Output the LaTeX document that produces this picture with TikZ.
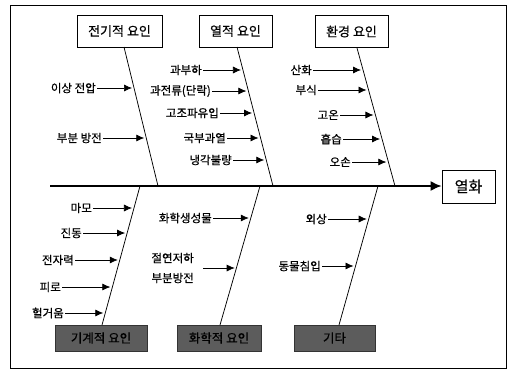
\documentclass[tikz,border=0pt]{standalone}
\usepackage{fontspec}
\setmainfont{Noto Sans CJK KR}[FakeBold=0.6]
\usetikzlibrary{arrows.meta,calc}
\definecolor{boxgray}{rgb}{0.36,0.36,0.36}
\begin{document}
\begin{tikzpicture}[x=1pt,y=-1pt,
  topcat/.style={draw, line width=0.7pt, minimum height=32pt, inner sep=1pt, font=\fontsize{13}{15}\selectfont},
  botcat/.style={draw=black!80, fill=boxgray, line width=0.7pt, minimum height=26pt, inner sep=1pt, font=\fontsize{12.5}{15}\selectfont},
  headbox/.style={draw, line width=0.8pt, minimum width=53pt, minimum height=33pt, inner sep=1pt, font=\fontsize{15}{17}\selectfont},
  cause/.style={anchor=east, inner sep=1pt, font=\fontsize{11.5}{13}\selectfont},
  carrow/.style={-{Latex[length=8pt,width=7pt]}, line width=0.7pt, shorten >=2pt},
  branch/.style={line width=0.75pt},
  spine/.style={line width=1.6pt, -{Latex[length=11pt,width=10pt]}}
]
\useasboundingbox (0,0) rectangle (508,370);
\draw[line width=0.8pt] (10,5) rectangle (506,368);

% category boxes
\node[topcat, minimum width=85pt] (elec) at (119.5,31) {전기적 요인};
\node[topcat, minimum width=73pt] (therm) at (235.5,31) {열적 요인};
\node[topcat, minimum width=73pt] (env) at (351.5,31.5) {환경 요인};
\node[botcat, minimum width=92pt] (mech) at (101,338) {기계적 요인};
\node[botcat, minimum width=84pt] (chem) at (219,338) {화학적 요인};
\node[botcat, minimum width=81pt] (oth) at (334.5,338) {기타};
\node[headbox] (head) at (468.5,186.5) {열화};

% spine
\coordinate (tail) at (50,186);
\draw[spine] (tail) -- (head.west |- tail);

% branch end points
\coordinate (e1) at (124,47);  \coordinate (e2) at (158,186);
\coordinate (t1) at (237,47);  \coordinate (t2) at (273,186);
\coordinate (v1) at (357,48);  \coordinate (v2) at (395,186);
\coordinate (m1) at (140,186); \coordinate (m2) at (102,325);
\coordinate (c1) at (260,186); \coordinate (c2) at (220,325);
\coordinate (o1) at (378,186); \coordinate (o2) at (339,325);
\foreach \a/\b in {e1/e2,t1/t2,v1/v2,m1/m2,c1/c2,o1/o2}
  \draw[branch] (\a) -- (\b);

% electrical causes
\node[cause] (ea) at (97,88) {이상 전압};
\node[cause] (eb) at (103,138) {부분 방전};
\coordinate (eat) at ($(e1)!{41/139}!(e2)$);
\coordinate (ebt) at ($(e1)!{91/139}!(e2)$);
\draw[carrow] (ea.east) -- (ea.east -| eat);
\draw[carrow] (eb.east) -- (eb.east -| ebt);

% thermal causes
\node[cause] (ta) at (203,70) {과부하};
\node[cause] (tb) at (212,91) {과전류(단락)};
\node[cause] (tc) at (220,113) {고조파유입};
\node[cause] (td) at (227,138) {국부과열};
\node[cause] (te) at (233,160) {냉각불량};
\coordinate (tat) at ($(t1)!{23/139}!(t2)$);
\coordinate (tbt) at ($(t1)!{44/139}!(t2)$);
\coordinate (tct) at ($(t1)!{66/139}!(t2)$);
\coordinate (tdt) at ($(t1)!{91/139}!(t2)$);
\coordinate (tet) at ($(t1)!{113/139}!(t2)$);
\foreach \n in {ta,tb,tc,td,te}
  \draw[carrow] (\n.east) -- (\n.east -| \n t);

% environmental causes
\node[cause] (va) at (313,70) {산화};
\node[cause] (vb) at (318,90) {부식};
\node[cause] (vc) at (340,115) {고온};
\node[cause] (vd) at (343,139) {흡습};
\node[cause] (ve) at (352,162) {오손};
\coordinate (vat) at ($(v1)!{22/138}!(v2)$);
\coordinate (vbt) at ($(v1)!{42/138}!(v2)$);
\coordinate (vct) at ($(v1)!{67/138}!(v2)$);
\coordinate (vdt) at ($(v1)!{91/138}!(v2)$);
\coordinate (vet) at ($(v1)!{114/138}!(v2)$);
\foreach \n in {va,vb,vc,vd,ve}
  \draw[carrow] (\n.east) -- (\n.east -| \n t);

% mechanical causes
\node[cause] (ma) at (93,208) {마모};
\node[cause] (mb) at (83,233) {진동};
\node[cause] (mc) at (75,260) {전자력};
\node[cause] (md) at (62,287) {피로};
\node[cause] (me) at (65,313) {헐거움};
\coordinate (mat) at ($(m1)!{22/139}!(m2)$);
\coordinate (mbt) at ($(m1)!{47/139}!(m2)$);
\coordinate (mct) at ($(m1)!{74/139}!(m2)$);
\coordinate (mdt) at ($(m1)!{101/139}!(m2)$);
\coordinate (met) at ($(m1)!{127/139}!(m2)$);
\foreach \n in {ma,mb,mc,md,me}
  \draw[carrow] (\n.east) -- (\n.east -| \n t);

% chemical causes
\node[cause] (ca) at (213,218) {화학생성물};
\node[cause, align=left, font=\fontsize{11.5}{20}\selectfont] (cb) at (195,268) {절연저하\\부분방전};
\coordinate (cat) at ($(c1)!{32/139}!(c2)$);
\coordinate (cbt) at ($(c1)!{81/139}!(c2)$);
\draw[carrow] (ca.east) -- (ca.east -| cat);
\draw[carrow] ([xshift=8pt]cb.east) -- (cb.east -| cbt);

% other causes
\node[cause] (oa) at (328,219) {외상};
\node[cause] (ob) at (322,266) {동물침입};
\coordinate (oat) at ($(o1)!{33/139}!(o2)$);
\coordinate (obt) at ($(o1)!{80/139}!(o2)$);
\draw[carrow] (oa.east) -- (oa.east -| oat);
\draw[carrow] (ob.east) -- (ob.east -| obt);
\end{tikzpicture}
\end{document}
